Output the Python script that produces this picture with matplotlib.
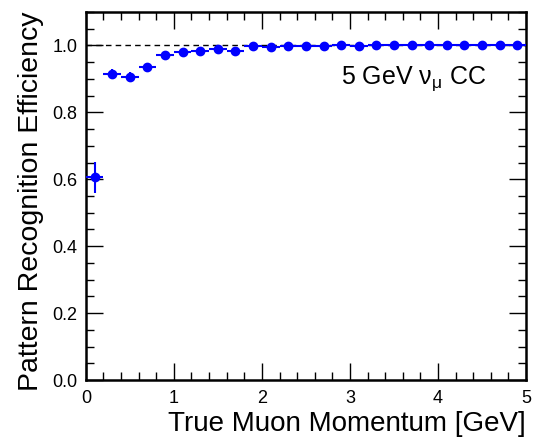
import matplotlib
matplotlib.use("Agg")
import matplotlib.pyplot as plt
import numpy as np
from matplotlib.ticker import MultipleLocator

plt.rcParams["font.family"] = ["Liberation Sans", "DejaVu Sans"]
plt.rcParams["mathtext.fontset"] = "custom"
plt.rcParams["mathtext.rm"] = "Liberation Sans"
plt.rcParams["mathtext.it"] = "Liberation Sans"

# bin centres (GeV), efficiency and vertical errors
momentum = [0.1, 0.3, 0.5, 0.7, 0.9, 1.1, 1.3, 1.5, 1.7, 1.9, 2.1, 2.3, 2.5,
            2.7, 2.9, 3.1, 3.3, 3.5, 3.7, 3.9, 4.1, 4.3, 4.5, 4.7, 4.9]
efficiency = [0.606, 0.916, 0.907, 0.937, 0.970, 0.980, 0.984, 0.988, 0.982,
              0.997, 0.995, 0.998, 0.998, 0.998, 1.000, 0.997, 1.000, 1.000,
              1.000, 1.000, 1.000, 1.000, 1.000, 1.000, 1.000]
eff_err = [0.046, 0.013, 0.013, 0.009, 0.006, 0.005, 0.004, 0.004, 0.005,
           0.002, 0.002, 0.002, 0.002, 0.002, 0.001, 0.002, 0.001, 0.001,
           0.001, 0.001, 0.001, 0.001, 0.001, 0.001, 0.001]
bin_half = 0.1

fig = plt.figure(figsize=(5.4, 4.44), dpi=100)
ax = fig.add_axes([0.159, 0.144, 0.815, 0.829])

ax.plot([0, 5], [1.0, 1.0], ls=(0, (4, 3)), color="black", lw=1.0, zorder=1)
ax.errorbar(momentum, efficiency, yerr=eff_err, xerr=bin_half, fmt="o",
            color="#0000ff", ms=6, elinewidth=1.5, capsize=0, zorder=3)

ax.set_xlim(0, 5)
ax.set_ylim(0, 1.1)
ax.xaxis.set_major_locator(MultipleLocator(1))
ax.xaxis.set_minor_locator(MultipleLocator(0.2))
ax.yaxis.set_major_locator(MultipleLocator(0.2))
ax.yaxis.set_minor_locator(MultipleLocator(0.05))
ax.yaxis.set_major_formatter(matplotlib.ticker.FormatStrFormatter("%.1f"))
ax.tick_params(which="both", direction="in", top=True, right=True, labelsize=13, width=1.0)
ax.tick_params(which="major", length=12)
ax.tick_params(which="minor", length=6)
ax.tick_params(axis="x", pad=7)
ax.tick_params(axis="y", pad=6)
for spine in ax.spines.values():
    spine.set_linewidth(1.8)

ax.set_xlabel("True Muon Momentum [GeV]", fontsize=20, loc="right")
ax.set_ylabel("Pattern Recognition Efficiency", fontsize=20.5, loc="top")
ax.xaxis.set_label_coords(1.0, -0.085)
ax.yaxis.set_label_coords(-0.095, 1.0)
ax.text(2.9, 0.9, r"5 GeV $\nu_{\mu}$ CC", fontsize=18, va="center", ha="left")

fig.savefig("out.png", dpi=100)
